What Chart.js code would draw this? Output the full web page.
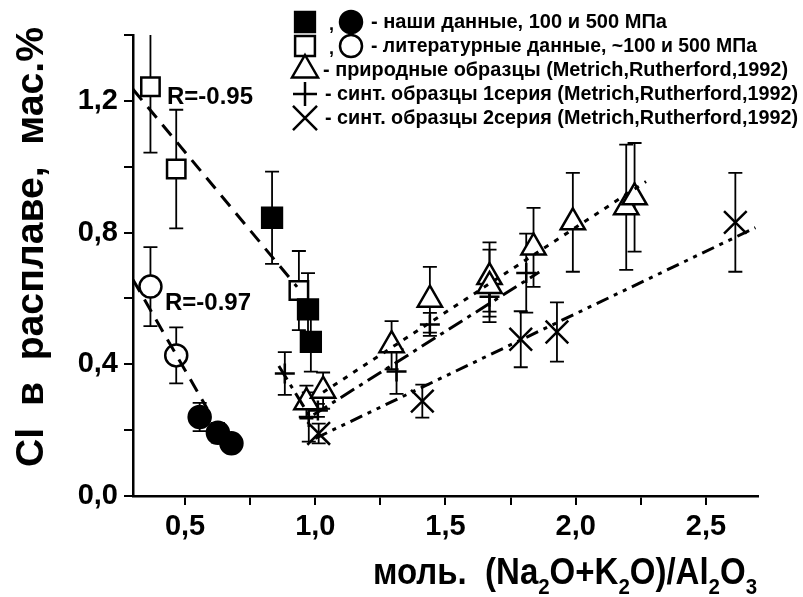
<!DOCTYPE html>
<html>
<head>
<meta charset="utf-8">
<script src="https://cdn.jsdelivr.net/npm/chart.js@4.4.1/dist/chart.umd.min.js"></script>
<style>
  html, body { margin: 0; padding: 0; background: #fff; }
</style>
</head>
<body>
<canvas id="chart" width="803" height="597"></canvas>
<script>
// axis ticks
const xTickValues = [0.5, 0.75, 1.0, 1.25, 1.5, 1.75, 2.0, 2.25, 2.5];
const xTickLabels = ['0,5', '', '1,0', '', '1,5', '', '2,0', '', '2,5'];
const yTickValues = [0, 0.2, 0.4, 0.6, 0.8, 1.0, 1.2, 1.4];
const yTickLabels = ['0,0', '', '0,4', '', '0,8', '', '1,2', ''];

// наши данные (squares / circles)
const ourSqX = [0.834, 0.972, 0.983];
const ourSqY = [0.845, 0.567, 0.468];
const ourSqErr = [0.14, 0.11, 0.09];
const ourCircX = [0.556, 0.626, 0.678];
const ourCircY = [0.240, 0.192, 0.160];
const ourCircErr = [0.043, 0.03, 0.02];

// литературные данные
const litSqX = [0.367, 0.466, 0.937];
const litSqY = [1.243, 0.993, 0.624];
const litSqErr = [0.2, 0.18, 0.12];
const litCircX = [0.367, 0.466];
const litCircY = [0.636, 0.427];
const litCircErr = [0.12, 0.085];

// природные образцы
const natX = [0.966, 1.03, 1.293, 1.44, 1.669, 1.669, 1.838, 1.989, 2.194, 2.226];
const natY = [0.285, 0.32, 0.458, 0.596, 0.665, 0.638, 0.755, 0.831, 0.877, 0.907];
const natErr = [0.05, 0.055, 0.073, 0.1, 0.105, 0.11, 0.12, 0.15, 0.19, 0.165];

// синт. образцы 1 серия
const s1X = [0.883, 0.975, 1.01, 1.312, 1.44, 1.669, 1.81];
const s1Y = [0.372, 0.24, 0.26, 0.378, 0.521, 0.605, 0.677];
const s1Err = [0.065, 0.075, 0.02, 0.068, 0.035, 0.06, 0.12];

// синт. образцы 2 серия
const s2X = [1.013, 1.411, 1.789, 1.928, 2.613];
const s2Y = [0.19, 0.288, 0.476, 0.498, 0.831];
const s2Err = [0.03, 0.05, 0.085, 0.09, 0.15];

// trend lines
const fitLitSqX = [0.30, 0.93];
const fitLitSqY = [1.235, 0.635];
const fitLitCircX = [0.30, 0.585];
const fitLitCircY = [0.657, 0.265];
const fitNatX = [1.03, 2.27];
const fitNatY = [0.315, 0.955];
const fitS1X = [0.86, 0.98, 1.86];
const fitS1Y = [0.395, 0.24, 0.68];
const fitS2X = [1.0, 2.69];
const fitS2Y = [0.175, 0.815];

const FONT = "'Liberation Sans', Arial, sans-serif";

function pts(xs, ys, es) {
  return xs.map((x, i) => ({ x: x, y: ys[i], e: es ? es[i] : 0 }));
}

function markerSet(label, xs, ys, es, style, radius, fill) {
  return {
    type: 'scatter',
    label: label,
    data: pts(xs, ys, es),
    pointStyle: style,
    pointRadius: radius,
    pointHoverRadius: radius,
    pointBorderWidth: 2.5,
    pointBorderColor: '#000',
    pointBackgroundColor: fill,
    showLine: false,
    errorBars: true,
    order: 2
  };
}

function fitLine(xs, ys, dash) {
  return {
    type: 'line',
    data: pts(xs, ys),
    borderColor: '#000',
    borderWidth: 3,
    borderDash: dash,
    pointRadius: 0,
    fill: false,
    tension: 0,
    order: 1
  };
}

const errorBars = {
  id: 'errorBars',
  beforeDatasetsDraw(chart) {
    const { ctx, chartArea, scales: { x, y } } = chart;
    ctx.save();
    ctx.beginPath();
    ctx.rect(chartArea.left, chartArea.top, chartArea.right - chartArea.left, chartArea.bottom - chartArea.top);
    ctx.clip();
    ctx.strokeStyle = '#000';
    ctx.lineWidth = 1.8;
    chart.data.datasets.forEach(ds => {
      if (!ds.errorBars) return;
      ds.data.forEach(p => {
        const px = x.getPixelForValue(p.x);
        const top = y.getPixelForValue(p.y + p.e);
        const bot = y.getPixelForValue(p.y - p.e);
        ctx.beginPath();
        ctx.moveTo(px, top); ctx.lineTo(px, bot);
        ctx.moveTo(px - 7, top); ctx.lineTo(px + 7, top);
        ctx.moveTo(px - 7, bot); ctx.lineTo(px + 7, bot);
        ctx.stroke();
      });
    });
    ctx.restore();
  }
};

// draws a text run (with subscripts) squeezed to a given width
function fitText(ctx, parts, x, y, width, size) {
  let total = 0;
  parts.forEach(p => {
    ctx.font = 'bold ' + (p.sub ? size * 0.62 : size) + 'px ' + FONT;
    p.w = ctx.measureText(p.t).width;
    total += p.w;
  });
  const k = width / total;
  ctx.save();
  ctx.translate(x, y);
  ctx.scale(k, 1);
  let cx = 0;
  parts.forEach(p => {
    ctx.font = 'bold ' + (p.sub ? size * 0.62 : size) + 'px ' + FONT;
    ctx.fillText(p.t, cx, p.sub ? size * 0.28 : 0);
    cx += p.w;
  });
  ctx.restore();
}

function marker(ctx, style, x, y, r, fill) {
  ctx.save();
  ctx.lineWidth = 2.5;
  ctx.strokeStyle = '#000';
  ctx.fillStyle = fill;
  ctx.beginPath();
  if (style === 'rect') {
    const s = r * Math.SQRT1_2;
    ctx.rect(x - s, y - s, 2 * s, 2 * s);
    ctx.fill(); ctx.stroke();
  } else if (style === 'circle') {
    ctx.arc(x, y, r, 0, Math.PI * 2);
    ctx.fill(); ctx.stroke();
  } else if (style === 'triangle') {
    ctx.moveTo(x, y - r);
    ctx.lineTo(x + r * 0.866, y + r / 2);
    ctx.lineTo(x - r * 0.866, y + r / 2);
    ctx.closePath();
    ctx.fill(); ctx.stroke();
  } else if (style === 'cross') {
    ctx.moveTo(x - r, y); ctx.lineTo(x + r, y);
    ctx.moveTo(x, y - r); ctx.lineTo(x, y + r);
    ctx.stroke();
  } else if (style === 'crossRot') {
    const d = r * Math.SQRT1_2;
    ctx.moveTo(x - d, y - d); ctx.lineTo(x + d, y + d);
    ctx.moveTo(x - d, y + d); ctx.lineTo(x + d, y - d);
    ctx.stroke();
  }
  ctx.restore();
}

const legendRows = [
  { y: 22, m: [['rect', 14, '#000'], ['circle', 11, '#000']], tx: 371, text: '- наши данные, 100 и 500 МПа', end: 667 },
  { y: 46, m: [['rect', 14, '#fff'], ['circle', 11, '#fff']], tx: 371, text: '- литературные данные, ~100 и 500 МПа', end: 757 },
  { y: 70, m: [['triangle', 15, '#fff']], tx: 323, text: '- природные образцы (Metrich,Rutherford,1992)', end: 788 },
  { y: 94, m: [['cross', 12, '#fff']], tx: 325, text: '- синт. образцы 1серия (Metrich,Rutherford,1992)', end: 798 },
  { y: 118, m: [['crossRot', 17, '#fff']], tx: 325, text: '- синт. образцы 2серия (Metrich,Rutherford,1992)', end: 798 }
];

const annotations = {
  id: 'annotations',
  afterDraw(chart) {
    const ctx = chart.ctx;
    ctx.save();
    ctx.fillStyle = '#000';
    ctx.textBaseline = 'middle';
    ctx.textAlign = 'left';

    // legend
    legendRows.forEach(row => {
      marker(ctx, row.m[0][0], 305, row.y, row.m[0][1], row.m[0][2]);
      if (row.m.length > 1) {
        ctx.font = 'bold 18px ' + FONT;
        ctx.fillText(',', 329, row.y + 3);
        marker(ctx, row.m[1][0], 351, row.y, row.m[1][1], row.m[1][2]);
      }
      fitText(ctx, [{ t: row.text }], row.tx, row.y, row.end - row.tx, 20);
    });

    // correlation labels
    fitText(ctx, [{ t: 'R=-0.95' }], 167, 97, 86, 24);
    fitText(ctx, [{ t: 'R=-0.97' }], 165, 303, 86, 24);

    // x axis title
    ctx.textBaseline = 'alphabetic';
    fitText(ctx, [
      { t: 'моль.  (Na' }, { t: '2', sub: true }, { t: 'O+K' }, { t: '2', sub: true },
      { t: 'O)/Al' }, { t: '2', sub: true }, { t: 'O' }, { t: '3', sub: true }
    ], 373, 584, 384, 36);

    // y axis title
    ctx.save();
    ctx.translate(43, 467);
    ctx.rotate(-Math.PI / 2);
    fitText(ctx, [{ t: 'Cl  в  расплаве,  мас.%' }], 0, 0, 440, 38);
    ctx.restore();

    ctx.restore();
  }
};

new Chart(document.getElementById('chart'), {
  type: 'scatter',
  data: {
    datasets: [
      fitLine(fitLitSqX, fitLitSqY, [14, 9]),
      fitLine(fitLitCircX, fitLitCircY, [14, 9]),
      fitLine(fitNatX, fitNatY, [5, 7]),
      fitLine(fitS1X, fitS1Y, [16, 6, 4, 6]),
      fitLine(fitS2X, fitS2Y, [13, 6, 4, 6, 4, 6]),
      markerSet('наши данные, квадраты', ourSqX, ourSqY, ourSqErr, 'rect', 14, '#000'),
      markerSet('наши данные, круги', ourCircX, ourCircY, ourCircErr, 'circle', 11, '#000'),
      markerSet('литературные данные, квадраты', litSqX, litSqY, litSqErr, 'rect', 13, '#fff'),
      markerSet('литературные данные, круги', litCircX, litCircY, litCircErr, 'circle', 11, '#fff'),
      markerSet('природные образцы', natX, natY, natErr, 'triangle', 14, '#fff'),
      markerSet('синт. образцы 1серия', s1X, s1Y, s1Err, 'cross', 10, '#fff'),
      markerSet('синт. образцы 2серия', s2X, s2Y, s2Err, 'crossRot', 16, '#fff')
    ]
  },
  options: {
    responsive: false,
    animation: false,
    devicePixelRatio: 1,
    layout: { padding: { top: 35, right: 45, left: 0, bottom: 0 } },
    plugins: {
      legend: { display: false },
      tooltip: { enabled: false }
    },
    scales: {
      x: {
        type: 'linear',
        min: 0.3,
        max: 2.7,
        afterBuildTicks: s => { s.ticks = xTickValues.map(v => ({ value: v })); },
        afterFit: s => { s.height = 101; },
        ticks: {
          callback: (v, i) => xTickLabels[i],
          autoSkip: false,
          maxRotation: 0,
          color: '#000',
          padding: 5,
          font: { family: FONT, size: 29, weight: 'bold' }
        },
        grid: { drawOnChartArea: false, drawTicks: true, tickLength: 9, color: '#000', lineWidth: 2 },
        border: { display: true, color: '#000', width: 2.5 }
      },
      y: {
        type: 'linear',
        min: 0,
        max: 1.4,
        afterBuildTicks: s => { s.ticks = yTickValues.map(v => ({ value: v })); },
        afterFit: s => { s.width = 133; },
        ticks: {
          callback: (v, i) => yTickLabels[i],
          autoSkip: false,
          color: '#000',
          padding: 6,
          font: { family: FONT, size: 29, weight: 'bold' }
        },
        grid: { drawOnChartArea: false, drawTicks: true, tickLength: 9, color: '#000', lineWidth: 2 },
        border: { display: true, color: '#000', width: 2.5 }
      }
    }
  },
  plugins: [errorBars, annotations]
});
</script>
</body>
</html>
